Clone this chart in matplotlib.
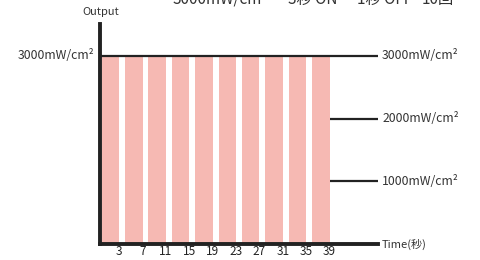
import matplotlib
matplotlib.use('Agg')
import matplotlib.pyplot as plt

plt.rcParams['font.family'] = ['Noto Sans CJK JP', 'DejaVu Sans']

# 3秒 ON / 1秒 OFF × 10回
on_start = [0, 4, 8, 12, 16, 20, 24, 28, 32, 36]
on_len = [3, 3, 3, 3, 3, 3, 3, 3, 3, 3]
output = [3000, 3000, 3000, 3000, 3000, 3000, 3000, 3000, 3000, 3000]
xticks = [3, 7, 11, 15, 19, 23, 27, 31, 35, 39]
levels = [3000, 2000, 1000]
level_labels = ['3000mW/cm²', '2000mW/cm²', '1000mW/cm²']
title_parts = ['3000mW/cm²', '3秒 ON', '1秒 OFF', '10回']
title_x = [173, 288, 357, 422]

W, H = 481, 260
fig = plt.figure(figsize=(W / 100, H / 100), dpi=100)
ax = fig.add_axes([100 / W, 16 / H, 278 / W, 220 / H])

ax.bar(on_start, output, width=on_len, align='edge', color='#F6B9B3',
       linewidth=0, zorder=1)

ax.set_xlim(-0.3, 47.3)
ax.set_ylim(0, 3510)

# level lines
ax.plot([-0.3, 47.3], [levels[0]] * 2, color='#222222', lw=1.6, zorder=3,
        solid_capstyle='butt')
for lv in levels[1:]:
    ax.plot([39, 47.3], [lv, lv], color='#222222', lw=1.6, zorder=3,
            solid_capstyle='butt')
for lv, lab in zip(levels, level_labels):
    ax.text(1.015, lv, lab, transform=ax.get_yaxis_transform(),
            ha='left', va='center', fontsize=8.8, color='#333333')

ax.text(-0.02, levels[0], level_labels[0], transform=ax.get_yaxis_transform(),
        ha='right', va='center', fontsize=8.8, color='#333333')

ax.set_xticks(xticks)
ax.set_xticklabels([str(t) for t in xticks], fontsize=8.5, color='#222222')
ax.tick_params(axis='x', length=0, pad=0.5)
ax.set_yticks([])

for s in ['top', 'right']:
    ax.spines[s].set_visible(False)
for s in ['left', 'bottom']:
    ax.spines[s].set_linewidth(2.8)
    ax.spines[s].set_color('#222222')

ax.text(1.015, 0, 'Time(秒)', transform=ax.transAxes, ha='left',
        va='center', fontsize=8, color='#333333')
fig.text(101 / W, 1 - 12 / H, 'Output', ha='center', va='center',
         fontsize=8, color='#333333')

# title cut off by the top edge
for part, px in zip(title_parts, title_x):
    fig.text(px / W, 1 - 4 / H, part, ha='left', va='baseline',
             fontsize=11, color='#333333')

fig.savefig('out.png', dpi=100)
